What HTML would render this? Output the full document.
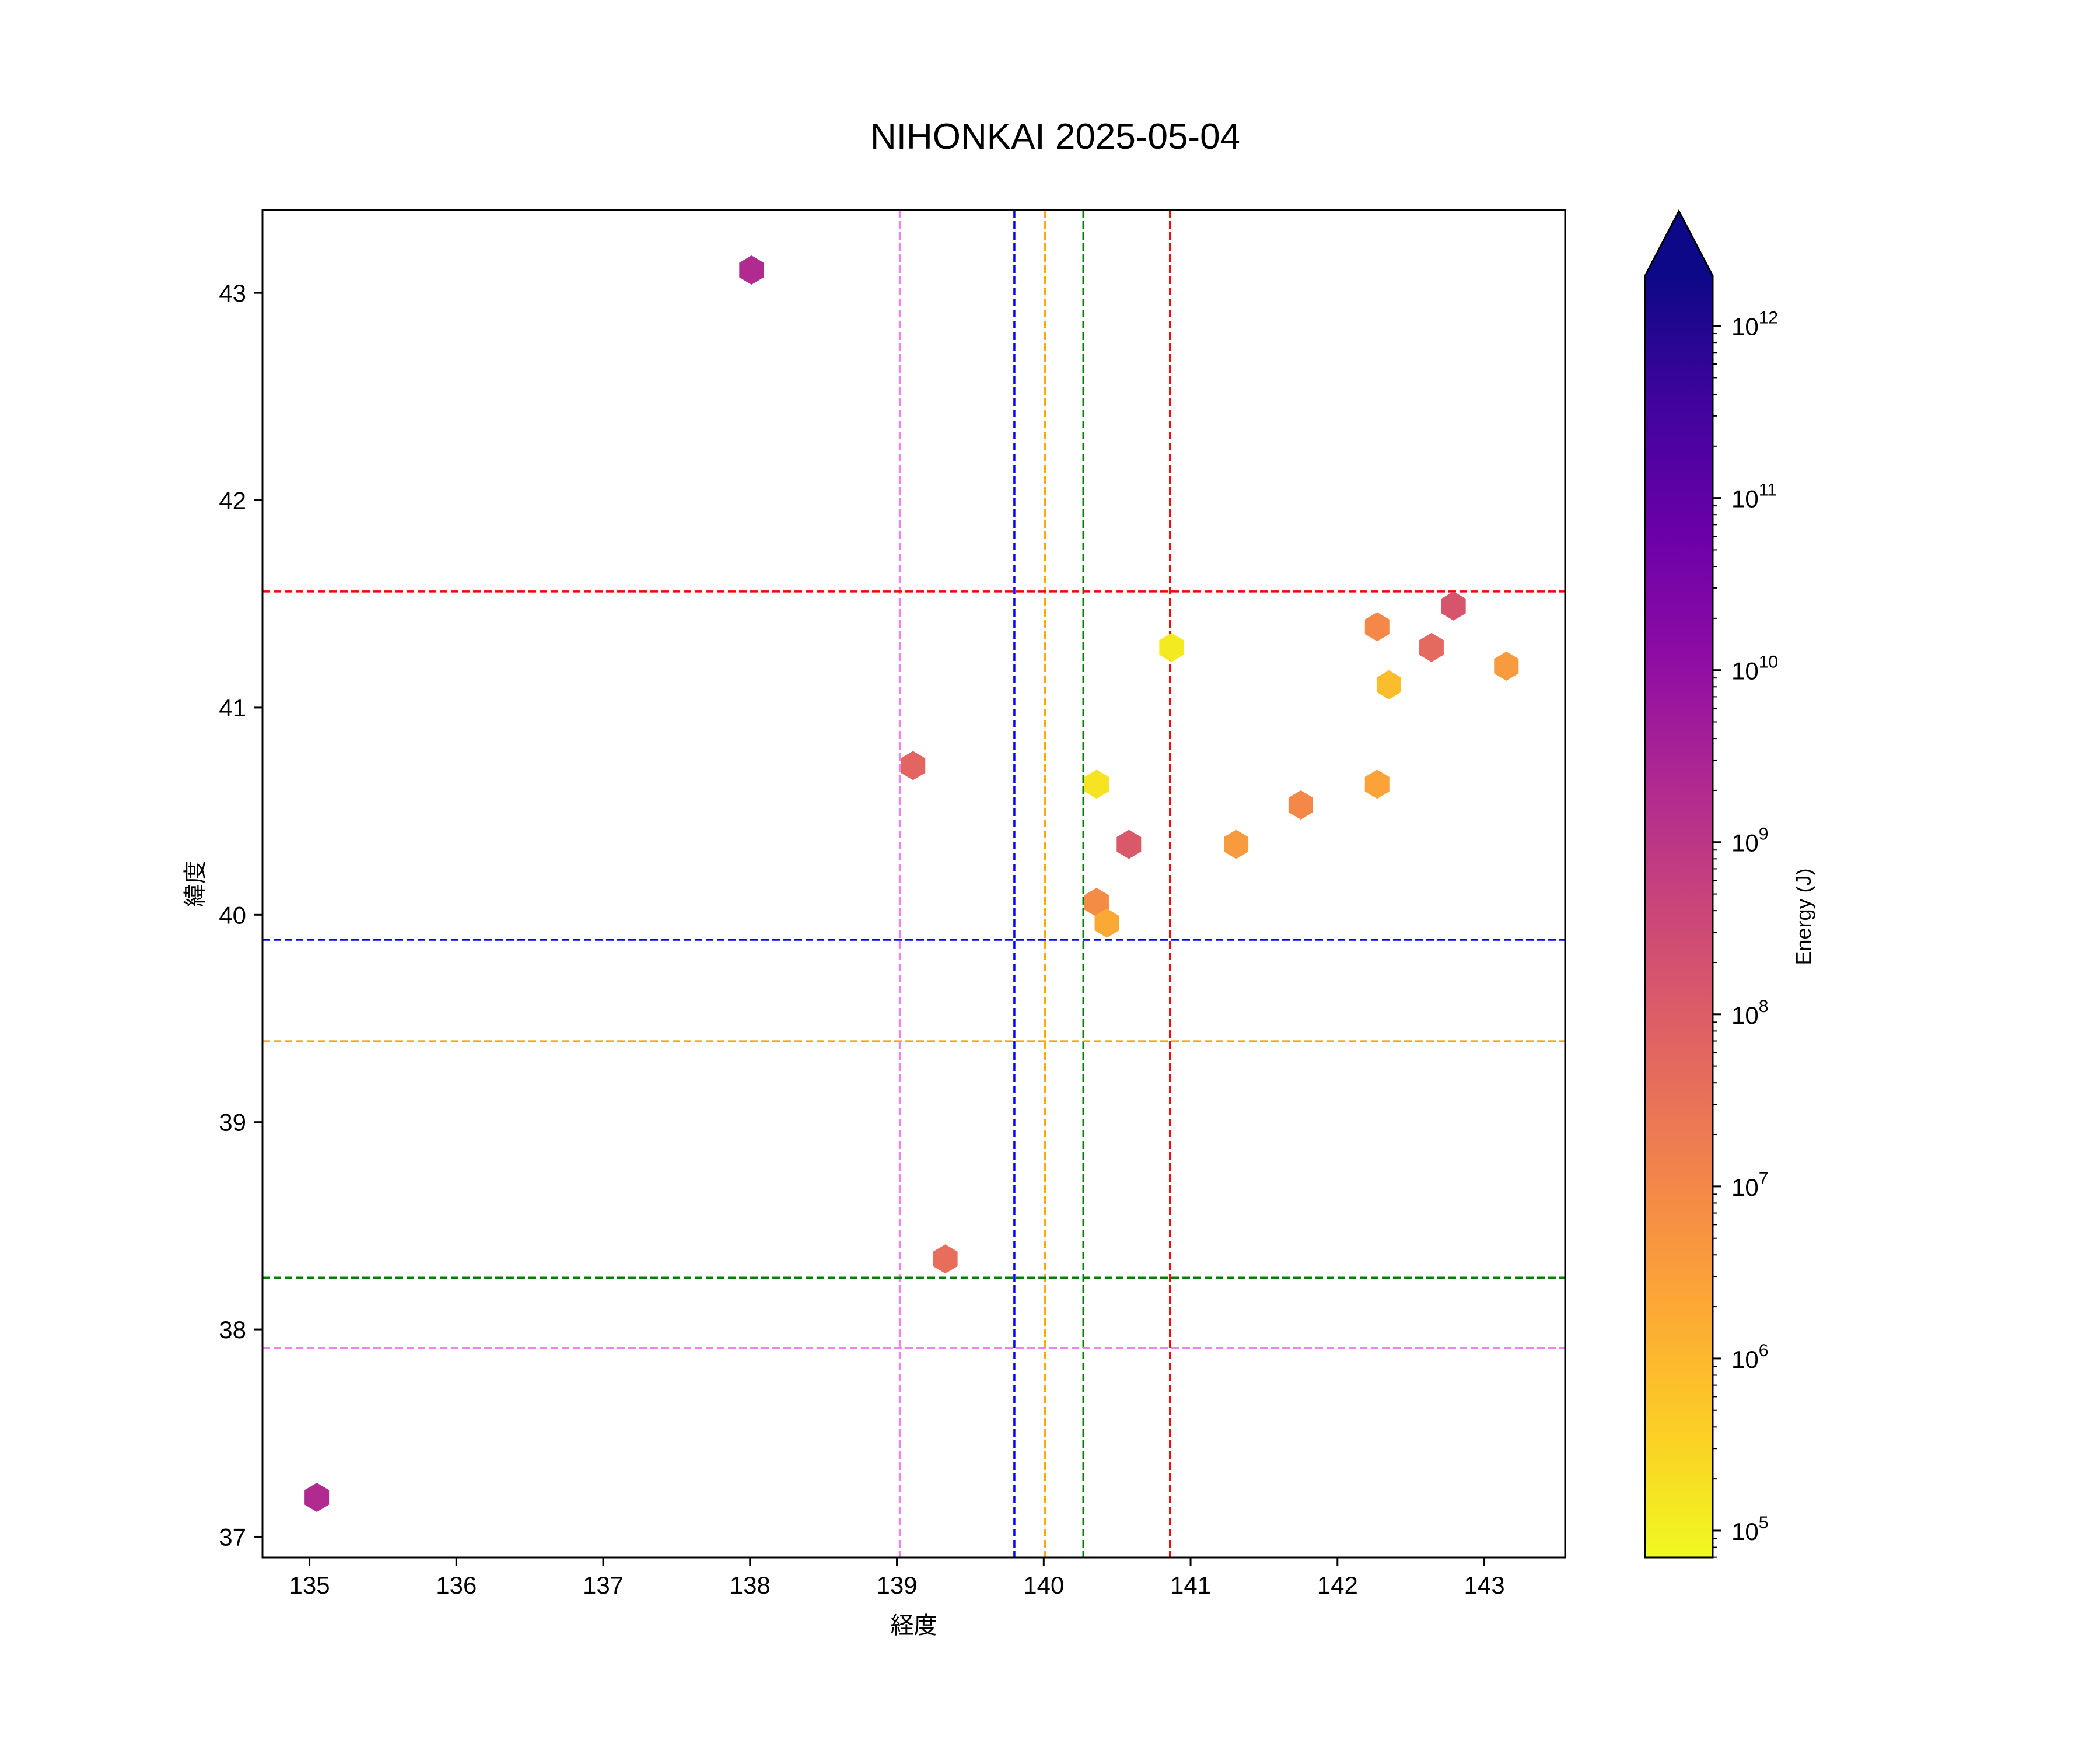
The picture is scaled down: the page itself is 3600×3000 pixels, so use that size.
<!DOCTYPE html>
<html><head><meta charset="utf-8">
<style>
html,body{margin:0;padding:0;background:#fff;}
svg{display:block;font-family:"Liberation Sans","Noto Sans CJK JP",sans-serif;}
</style></head>
<body>
<svg id="chart" width="3600" height="3000" viewBox="0 0 3600 3000" xmlns="http://www.w3.org/2000/svg">
<defs>
<linearGradient id="plasmaR" x1="0" y1="1" x2="0" y2="0">
<stop offset="0" stop-color="#f0f921"/><stop offset="0.1" stop-color="#fcce25"/><stop offset="0.2" stop-color="#fca636"/><stop offset="0.3" stop-color="#f2844b"/><stop offset="0.4" stop-color="#e16462"/><stop offset="0.5" stop-color="#cc4778"/><stop offset="0.6" stop-color="#b12a90"/><stop offset="0.7" stop-color="#8f0da4"/><stop offset="0.8" stop-color="#6a00a8"/><stop offset="0.9" stop-color="#41049d"/><stop offset="1" stop-color="#0d0887"/>
</linearGradient>
<clipPath id="plotclip"><rect x="450" y="360" width="2233" height="2310"/></clipPath>
</defs>
<text x="1809" y="255" font-size="62" text-anchor="middle">NIHONKAI 2025-05-04</text>
<g id="plot" clip-path="url(#plotclip)"></g>
<g id="axes"></g>
<g id="cbar"></g>
</svg>
<script>
const lons = [138.01,135.05,139.11,139.33,140.87,140.36,140.58,140.36,140.43,141.31,141.75,142.27,142.35,142.27,142.64,142.79,143.15];
const lats = [43.11,37.19,40.72,38.34,41.29,40.63,40.34,40.06,39.96,40.34,40.53,41.39,41.11,40.63,41.29,41.49,41.20];
const logEnergy = [9.3,9.3,7.8,7.6,5.1,5.2,8.1,6.9,6.3,6.6,7.0,7.0,5.9,6.4,7.7,8.2,6.6];
const vLineLons = [139.02,139.80,140.01,140.27,140.86];
const vLineColors = ["violet","blue","orange","green","red"];
const hLineLats = [41.56,39.88,39.39,38.25,37.91];
const hLineColors = ["red","blue","orange","green","violet"];
const xTicks = [135,136,137,138,139,140,141,142,143];
const yTicks = [37,38,39,40,41,42,43];
const cbDecades = [5,6,7,8,9,10,11,12];

const NS="http://www.w3.org/2000/svg";
const L=450,R=2683,T=360,B=2670;
const X0=134.68,X1=143.55,Y0=36.90,Y1=43.40;
const CB_L=2820,CB_R=2936,CB_T=473,CB_B=2670,CB_TIP=362,C0=4.844,C1=12.29;
const sx=v=>L+(v-X0)/(X1-X0)*(R-L);
const sy=v=>B-(v-Y0)/(Y1-Y0)*(B-T);
const sc=v=>CB_B-(v-C0)/(C1-C0)*(CB_B-CB_T);
const stops=["#f0f921","#fcce25","#fca636","#f2844b","#e16462","#cc4778","#b12a90","#8f0da4","#6a00a8","#41049d","#0d0887"];
function hex2rgb(h){return [1,3,5].map(i=>parseInt(h.substr(i,2),16));}
function cmap(v){let t=Math.max(0,Math.min(1,(v-C0)/(C1-C0)))*10;let i=Math.min(9,Math.floor(t));let f=t-i;
 const a=hex2rgb(stops[i]),b=hex2rgb(stops[i+1]);return "rgb("+a.map((c,k)=>Math.round(c+(b[k]-c)*f)).join(",")+")";}
function el(tag,attrs,parent,text){const e=document.createElementNS(NS,tag);for(const k in attrs)e.setAttribute(k,attrs[k]);if(text!==undefined)e.textContent=text;parent.appendChild(e);return e;}
const plot=document.getElementById("plot"),axes=document.getElementById("axes"),cbar=document.getElementById("cbar");

vLineLons.forEach((v,i)=>{const l=el("line",{x1:sx(v),x2:sx(v),y1:T,y2:B,stroke:vLineColors[i],"stroke-width":3.5,"stroke-dasharray":"13,6"},plot);

});
hLineLats.forEach((v,i)=>{const l=el("line",{x1:L,x2:R,y1:sy(v),y2:sy(v),stroke:hLineColors[i],"stroke-width":3.5,"stroke-dasharray":"13,6"},plot);

});

const hw=21,hh=25;
lons.forEach((lo,i)=>{const cx=sx(lo),cy=sy(lats[i]);
const pts=[[0,-hh],[hw,-hh/2],[hw,hh/2],[0,hh],[-hw,hh/2],[-hw,-hh/2]].map(p=>(cx+p[0])+","+(cy+p[1])).join(" ");
const h=el("polygon",{points:pts,fill:cmap(logEnergy[i])},plot);

});

const fr=el("rect",{x:L,y:T,width:R-L,height:B-T,fill:"none",stroke:"#000","stroke-width":3},axes);


xTicks.forEach(v=>{const x=sx(v);el("line",{x1:x,x2:x,y1:B,y2:B+15,stroke:"#000","stroke-width":3},axes);
const t=el("text",{x:x,y:B+62,"font-size":42,"text-anchor":"middle"},axes,String(v));

});
yTicks.forEach(v=>{const y=sy(v);el("line",{x1:L-15,x2:L,y1:y,y2:y,stroke:"#000","stroke-width":3},axes);
const t=el("text",{x:L-28,y:y+15,"font-size":42,"text-anchor":"end"},axes,String(v));

});
const xl=el("text",{x:(L+R)/2,y:2800,"font-size":40,"text-anchor":"middle"},axes,"経度");


const yl=el("text",{x:0,y:0,"font-size":40,"text-anchor":"middle",transform:"translate(348,"+((T+B)/2)+") rotate(-90)"},axes,"緯度");



const cb=el("rect",{x:CB_L,y:CB_T,width:CB_R-CB_L,height:CB_B-CB_T,fill:"url(#plasmaR)"},cbar);


const tip=el("polygon",{points:CB_L+","+CB_T+" "+((CB_L+CB_R)/2)+","+CB_TIP+" "+CB_R+","+CB_T,fill:"#0d0887"},cbar);


el("polygon",{points:CB_L+","+CB_B+" "+CB_L+","+CB_T+" "+((CB_L+CB_R)/2)+","+CB_TIP+" "+CB_R+","+CB_T+" "+CB_R+","+CB_B,fill:"none",stroke:"#000","stroke-width":3},cbar);
cbDecades.forEach(d=>{const y=sc(d);
el("line",{x1:CB_R,x2:CB_R+15,y1:y,y2:y,stroke:"#000","stroke-width":3},cbar);
const t=el("text",{x:CB_R+32,y:y+16,"font-size":42},cbar);


el("tspan",{},t,"10");el("tspan",{dy:-20,"font-size":30},t,String(d));
for(let m=2;m<10;m++){const v=d+Math.log10(m);if(v<C1){const ym=sc(v);el("line",{x1:CB_R,x2:CB_R+8,y1:ym,y2:ym,stroke:"#000","stroke-width":2},cbar);}}
for(let m=2;m<10;m++){const v=d-1+Math.log10(m);if(v>C0&&d===5){const ym=sc(v);el("line",{x1:CB_R,x2:CB_R+8,y1:ym,y2:ym,stroke:"#000","stroke-width":2},cbar);}}
});
const cl=el("text",{x:0,y:0,"font-size":36,"text-anchor":"middle",transform:"translate(3104,"+((CB_T+CB_B)/2)+") rotate(-90)"},cbar,"Energy (J)");


</script>
</body></html>
